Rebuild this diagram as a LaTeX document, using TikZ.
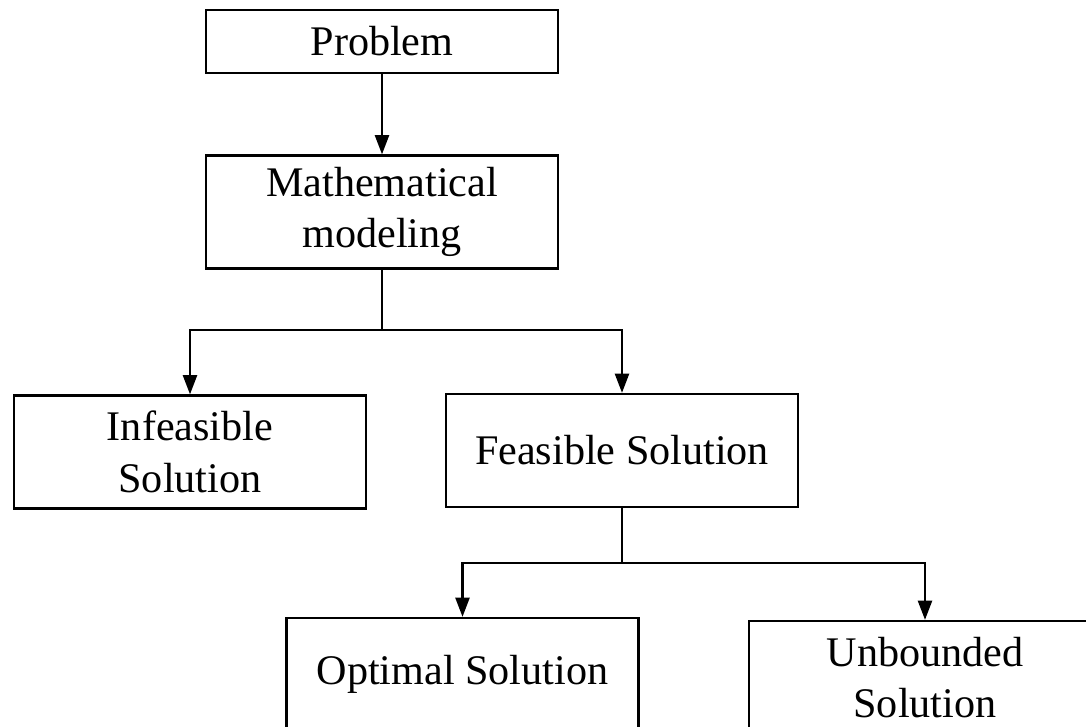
\documentclass[tikz,border=0pt]{standalone}
\usepackage{fontspec}
\setmainfont{Liberation Serif}
\usepackage{tikz}
\usetikzlibrary{arrows.meta}
\usetikzlibrary{positioning}

\begin{document}
\begin{tikzpicture}[x=0.02cm, y=-0.02cm,
    block/.style={draw, line width=1.3pt, minimum width=7.04cm, minimum height=2.26cm,
      inner sep=0pt, align=center, font=\fontsize{24}{29.5}\selectfont},
    arr/.style={line width=1.4pt, -{Triangle[length=11pt,width=8pt]}},
    lin/.style={line width=1.4pt}]
      \useasboundingbox (0,0) rectangle (1086,727);
      \clip (0,0) rectangle (1086,727);
      % boxes
      \node[block, minimum height=1.26cm] (problem) at (382,41.5) {Problem};
      \node[block] (model) at (382,212) {Mathematical\\modeling};
      \node[block] (infeasible) at (190,452) {Infeasible\\Solution};
      \node[block] (feasible) at (622,450.5) {Feasible Solution};
      \node[block] (optimal) at (462.5,674.5) {Optimal Solution};
      \node[block] (unbounded) at (925,677.5) {Unbounded\\Solution};
      % branching points
      \coordinate (split1) at (382,330);
      \coordinate (split2) at (622,563);
      % arrows
      \draw[arr] (problem) -- (model);
      \draw[lin] (model) -- (split1);
      \draw[arr] (split1) -| (infeasible);
      \draw[arr] (split1) -| (feasible);
      \draw[lin] (feasible) -- (split2);
      \draw[arr] (split2) -| (optimal);
      \draw[arr] (split2) -| (unbounded);
    \end{tikzpicture}
\end{document}
